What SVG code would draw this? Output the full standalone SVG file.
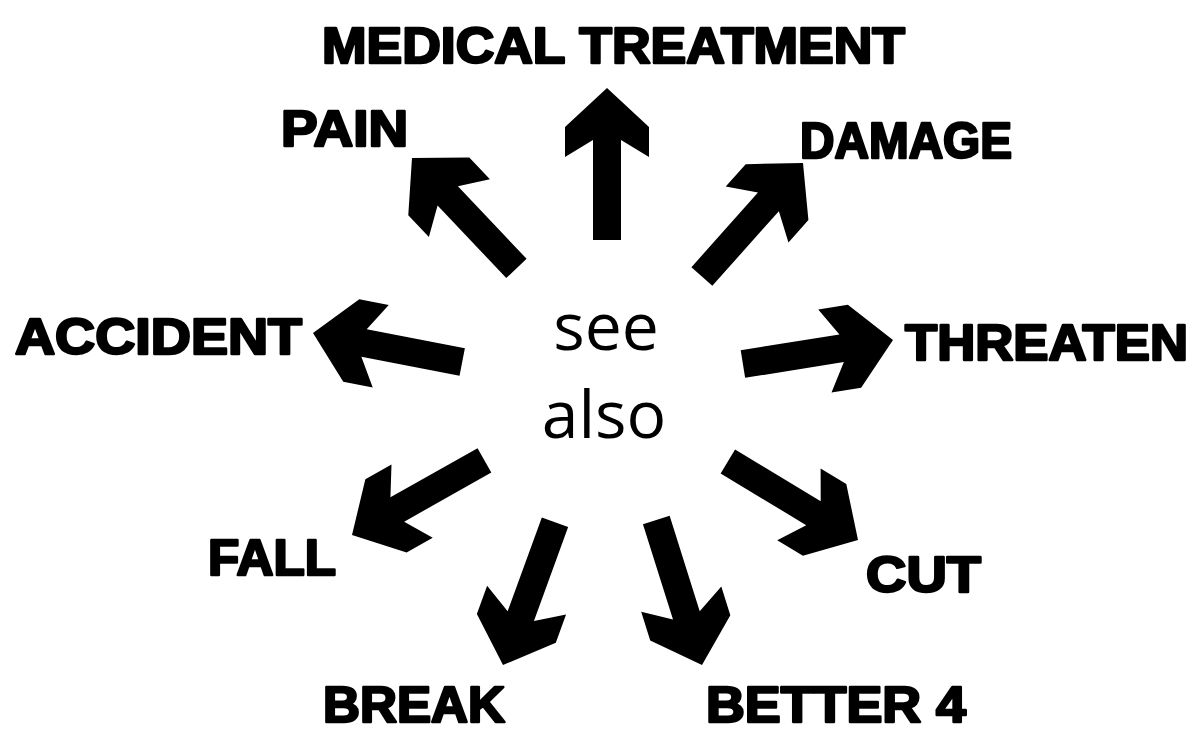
<svg xmlns="http://www.w3.org/2000/svg" xmlns:xlink="http://www.w3.org/1999/xlink" width="1194" height="733" viewBox="0 0 1194 733">
<style>
.lbl{font-family:"Liberation Sans",Arial,sans-serif;font-weight:bold;font-size:50px;fill:#000;stroke:#000;stroke-width:2.5;stroke-linejoin:round}
.ctr{font-family:"Open Sans","Noto Sans",sans-serif;font-size:66px;fill:#000}
.arr{fill:#000}
</style>
<defs>
<path id="arrow" d="M0,0 L42,39 L42,69 L14,52 L14,152 L-14,152 L-14,52 L-42,69 L-42,39 Z"/>
</defs>
<rect width="1194" height="733" fill="#fff"/>
<g id="connectors">
<use class="arr" xlink:href="#arrow" href="#arrow" transform="translate(607,88) rotate(0)"/>
<use class="arr" xlink:href="#arrow" href="#arrow" transform="translate(412,158) rotate(-43.4)"/>
<use class="arr" xlink:href="#arrow" href="#arrow" transform="translate(803,163) rotate(41.7)"/>
<use class="arr" xlink:href="#arrow" href="#arrow" transform="translate(313,333) rotate(-79)"/>
<use class="arr" xlink:href="#arrow" href="#arrow" transform="translate(893,340) rotate(80.9)"/>
<use class="arr" xlink:href="#arrow" href="#arrow" transform="translate(352,535) rotate(-119.4)"/>
<use class="arr" xlink:href="#arrow" href="#arrow" transform="translate(858,540) rotate(121.1)"/>
<use class="arr" xlink:href="#arrow" href="#arrow" transform="translate(503,665) rotate(-160)"/>
<use class="arr" xlink:href="#arrow" href="#arrow" transform="translate(702,665) rotate(162.5)"/>
</g>
<g id="center"><text class="ctr" x="606" y="350" text-anchor="middle">see</text><text class="ctr" x="604" y="438" text-anchor="middle">also</text></g>
<g id="medical-treatment"><text class="lbl" x="322" y="63" textLength="583" lengthAdjust="spacingAndGlyphs">MEDICAL TREATMENT</text></g>
<g id="pain"><text class="lbl" x="281" y="146" textLength="127" lengthAdjust="spacingAndGlyphs">PAIN</text></g>
<g id="damage"><text class="lbl" x="800" y="158" textLength="212" lengthAdjust="spacingAndGlyphs">DAMAGE</text></g>
<g id="accident"><text class="lbl" x="15" y="354" textLength="287" lengthAdjust="spacingAndGlyphs">ACCIDENT</text></g>
<g id="threaten"><text class="lbl" x="905" y="360" textLength="283" lengthAdjust="spacingAndGlyphs">THREATEN</text></g>
<g id="fall"><text class="lbl" x="208" y="575" textLength="128" lengthAdjust="spacingAndGlyphs">FALL</text></g>
<g id="cut"><text class="lbl" x="866" y="592" textLength="115" lengthAdjust="spacingAndGlyphs">CUT</text></g>
<g id="break"><text class="lbl" x="323" y="722" textLength="182" lengthAdjust="spacingAndGlyphs">BREAK</text></g>
<g id="better4"><text class="lbl" x="706" y="722" textLength="260" lengthAdjust="spacingAndGlyphs">BETTER 4</text></g>
</svg>
